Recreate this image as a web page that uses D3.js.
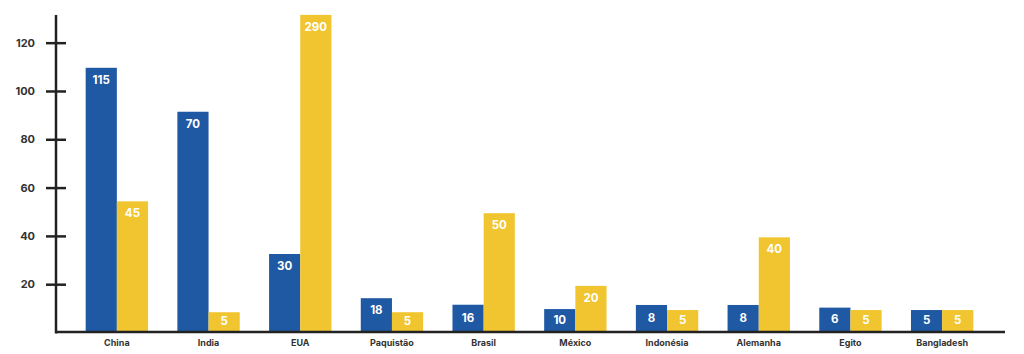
<!DOCTYPE html>
<html>
<head>
<meta charset="utf-8">
<script src="https://cdn.jsdelivr.net/npm/d3@7"></script>
<style>
  body { margin: 0; background: #fff; }
  svg { display: block; font-family: Inter, "Noto Sans", sans-serif; }
</style>
</head>
<body>
<div id="chart"></div>
<script>
// categories and the two series (bar heights as drawn on the axis, and the printed labels)
var countries = ["China", "India", "EUA", "Paquistão", "Brasil", "México", "Indonésia", "Alemanha", "Egito", "Bangladesh"];
var blueHeights = [109.6, 91.4, 32.5, 14.2, 11.5, 9.7, 11.4, 11.4, 10.3, 9.3];
var yellowHeights = [54.3, 8.4, 131.5, 8.4, 49.4, 19.3, 9.3, 39.4, 9.3, 9.3];
var blueLabels = ["115", "70", "30", "18", "16", "10", "8", "8", "6", "5"];
var yellowLabels = ["45", "5", "290", "5", "50", "20", "5", "40", "5", "5"];
var yTicks = [20, 40, 60, 80, 100, 120];

function init() {
  var width = 1024;
  var height = 354;
  var axisX = 56;
  var series = ["blue", "yellow"];
  var color = d3.scaleOrdinal().domain(series).range(["#1f58a3", "#f1c52f"]);

  var data = countries.map(function(c, i) {
    return {
      name: c,
      values: [
        { key: "blue", h: blueHeights[i], label: blueLabels[i] },
        { key: "yellow", h: yellowHeights[i], label: yellowLabels[i] }
      ]
    };
  });

  var x0 = d3.scaleBand().domain(countries).range([71, 988]).paddingInner(0.32).paddingOuter(0.16);
  var x1 = d3.scaleBand().domain(series).range([0, x0.bandwidth()]);
  var yScale = d3.scaleLinear().domain([0, 131.5]).range([332.5, 14.9]);

  var svg = d3.select("#chart").append("svg")
    .attr("width", width)
    .attr("height", height);

  var groups = svg.selectAll(".group")
    .data(data)
    .enter()
    .append("g")
    .attr("class", "group")
    .attr("transform", function(d) { return "translate(" + x0(d.name) + ",0)"; });

  groups.selectAll("rect")
    .data(function(d) { return d.values; })
    .enter()
    .append("rect")
    .attr("x", function(d) { return x1(d.key); })
    .attr("y", function(d) { return yScale(d.h); })
    .attr("width", x1.bandwidth())
    .attr("height", function(d) { return yScale(0) - yScale(d.h); })
    .style("fill", function(d) { return color(d.key); });

  groups.selectAll("text.val")
    .data(function(d) { return d.values; })
    .enter()
    .append("text")
    .attr("class", "val")
    .attr("x", function(d) { return x1(d.key) + x1.bandwidth() / 2; })
    .attr("y", function(d) {
      var top = yScale(d.h);
      var barH = yScale(0) - top;
      if (barH < 32) return top + barH / 2 + 3;
      return top + 16;
    })
    .attr("text-anchor", "middle")
    .attr("fill", "#fff")
    .style("font-size", "11.5px")
    .style("font-weight", "700")
    .text(function(d) { return d.label; });

  // category labels
  svg.selectAll(".cat")
    .data(countries)
    .enter()
    .append("text")
    .attr("class", "cat")
    .attr("x", function(d) { return x0(d) + x0.bandwidth() / 2; })
    .attr("y", 346)
    .attr("text-anchor", "middle")
    .attr("fill", "#333")
    .style("font-size", "9px")
    .style("font-weight", "700")
    .text(function(d) { return d; });

  // y axis
  var yAxis = d3.axisLeft(yScale).tickValues(yTicks).tickSize(10).tickPadding(11);
  var gy = svg.append("g")
    .attr("transform", "translate(" + axisX + ",0)")
    .call(yAxis);
  gy.select(".domain").remove();
  gy.selectAll(".tick line")
    .attr("x1", 10)
    .attr("stroke", "#222")
    .attr("stroke-width", 2.5);
  gy.selectAll(".tick text")
    .attr("fill", "#333")
    .style("font-size", "11px")
    .style("font-weight", "700")
    .style("font-family", "Inter, 'Noto Sans', sans-serif");

  gy.append("line")
    .attr("x1", 0).attr("x2", 0)
    .attr("y1", yScale.range()[1])
    .attr("y2", yScale(0) + 1)
    .attr("stroke", "#222")
    .attr("stroke-width", 2.5);

  // x axis line
  svg.append("line")
    .attr("x1", axisX)
    .attr("x2", 1005)
    .attr("y1", yScale(0) - 0.5)
    .attr("y2", yScale(0) - 0.5)
    .attr("stroke", "#222")
    .attr("stroke-width", 2.5);
}

window.onload = init;
</script>
</body>
</html>
